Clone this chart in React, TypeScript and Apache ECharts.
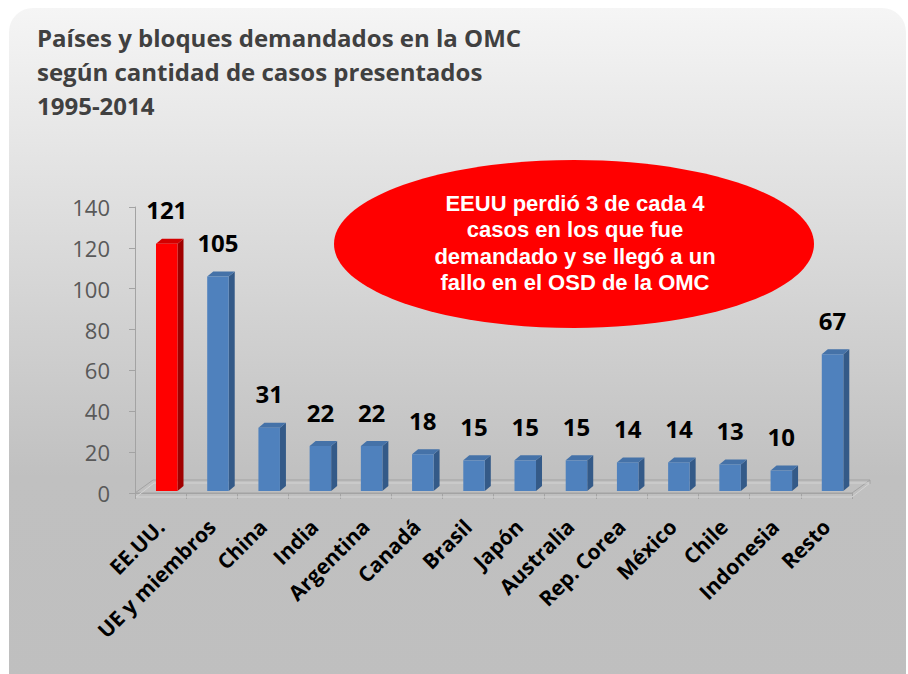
import React, { useEffect, useRef } from 'react';
import * as echarts from 'echarts';

const categories = ['EE.UU.', 'UE y miembros', 'China', 'India', 'Argentina', 'Canadá', 'Brasil', 'Japón', 'Australia', 'Rep. Corea', 'México', 'Chile', 'Indonesia', 'Resto'];
const casos = [121, 105, 31, 22, 22, 18, 15, 15, 15, 14, 14, 13, 10, 67];
const highlighted = ['EE.UU.'];
const yMin = 0;
const yMax = 140;
const yStep = 20;
const titleLines = ['Países y bloques demandados en la OMC', 'según cantidad de casos presentados', '1995-2014'];
const calloutLines = ['EEUU perdió 3 de cada 4', 'casos en los que fue', 'demandado y se llegó a un', 'fallo en el OSD de la OMC'];

const FONT = '"Open Sans", "Noto Sans", sans-serif';
const CALLOUT_FONT = '"Liberation Sans", Arial, sans-serif';

export default function App() {
  const ref = useRef<HTMLDivElement>(null);
  useEffect(() => {
    if (!ref.current) return;
    const chart = echarts.init(ref.current, undefined, { renderer: 'svg' });
    const lineColor = '#a3a3a3';
    const calloutCx = 575;
    const calloutFirst = 203;
    const calloutGap = 26.6;
    chart.setOption({
      animation: false,
      backgroundColor: '#ffffff',
      title: {
        text: titleLines.join('\n'),
        left: 32,
        top: 15,
        textStyle: { fontFamily: FONT, fontWeight: 'bold', fontSize: 24, lineHeight: 34, color: '#404040' },
      },
      graphic: [
        {
          type: 'rect',
          z: -10,
          silent: true,
          shape: { x: 9, y: 8, width: 897, height: 690, r: 24 },
          style: {
            fill: new echarts.graphic.LinearGradient(0, 0, 0, 1, [
              { offset: 0, color: '#f5f5f5' },
              { offset: 0.68, color: '#c0c0c0' },
              { offset: 1, color: '#bfbfbf' },
            ]),
          },
        },
        {
          type: 'ellipse',
          z: 50,
          shape: { cx: 574, cy: 244, rx: 240, ry: 84 },
          style: { fill: '#ff0000' },
        },
        ...calloutLines.map((line, i) => ({
          type: 'text',
          z: 51,
          x: calloutCx,
          y: calloutFirst + i * calloutGap,
          style: {
            text: line,
            align: 'center',
            verticalAlign: 'middle',
            font: `bold 22px ${CALLOUT_FONT}`,
            fill: '#ffffff',
          },
        })),
      ],
      grid: { left: 135, right: 56, top: 207, bottom: 181, containLabel: false },
      xAxis: {
        type: 'category',
        data: categories,
        offset: 4,
        axisLine: { show: true, lineStyle: { color: lineColor, width: 1 } },
        axisTick: { show: true, length: 6, lineStyle: { color: lineColor } },
        axisLabel: {
          interval: 0,
          rotate: 45,
          margin: 26,
          fontFamily: FONT,
          fontWeight: 'bold',
          fontSize: 21,
          color: '#000000',
        },
      },
      yAxis: {
        type: 'value',
        min: yMin,
        max: yMax,
        interval: yStep,
        axisLine: { show: true, lineStyle: { color: lineColor, width: 1 } },
        axisTick: { show: true, length: 6, lineStyle: { color: lineColor } },
        splitLine: { show: false },
        axisLabel: { margin: 25, fontFamily: FONT, fontSize: 22, color: '#595959' },
      },
      series: [
        {
          type: 'custom',
          z: 1,
          silent: true,
          data: [[0]],
          renderItem: (params: any) => {
            const cs = params.coordSys;
            const x0 = cs.x, x1 = cs.x + cs.width, yf = cs.y + cs.height;
            const dx = 18, dy = 13, th = 4;
            return {
              type: 'group',
              children: [
                { type: 'polygon', shape: { points: [[x0, yf], [x0 + dx, yf - dy], [x1 + dx, yf - dy], [x1, yf]] }, style: { fill: 'none', stroke: lineColor, lineWidth: 1 } },
                { type: 'polygon', shape: { points: [[x0 + 1, yf + th], [x0 + dx + 1, yf - dy + th - 1], [x1 + dx, yf - dy + th - 1], [x1, yf + th]] }, style: { fill: 'none', stroke: '#d4d4d4', lineWidth: 1 } },
                { type: 'line', shape: { x1: x1 + dx, y1: yf - dy, x2: x1 + dx, y2: yf - dy + th }, style: { stroke: lineColor, lineWidth: 1 } },
              ],
            };
          },
        },
        {
          type: 'custom',
          z: 5,
          data: casos.map((v, i) => [i, v]),
          encode: { x: 0, y: 1 },
          renderItem: (params: any, api: any) => {
            const idx = api.value(0);
            const v = api.value(1);
            const base = api.coord([idx, 0]);
            const top = api.coord([idx, v]);
            const bw = api.size([1, 0])[0];
            const fw = bw * 0.42;
            const fx = base[0] - bw * 0.09;
            const lift = 2, dx = 6, dy = 5;
            const yb = base[1] - lift;
            const yt = top[1] - lift;
            const red = highlighted.includes(categories[idx]);
            const front = red ? '#ff0000' : '#4f81bd';
            const side = red ? '#a00000' : '#345a88';
            const topC = red ? '#d40000' : '#4572a8';
            return {
              type: 'group',
              children: [
                { type: 'polygon', shape: { points: [[fx + fw, yt], [fx + fw + dx, yt - dy], [fx + fw + dx, yb - dy], [fx + fw, yb]] }, style: { fill: side } },
                { type: 'polygon', shape: { points: [[fx, yt], [fx + dx, yt - dy], [fx + fw + dx, yt - dy], [fx + fw, yt]] }, style: { fill: topC } },
                { type: 'rect', shape: { x: fx, y: yt, width: fw, height: yb - yt }, style: { fill: front } },
                {
                  type: 'text',
                  style: {
                    text: String(v),
                    x: fx + fw / 2,
                    y: yt - 34,
                    align: 'center',
                    verticalAlign: 'middle',
                    font: `bold 24px ${FONT}`,
                    fill: '#000000',
                  },
                },
              ],
            };
          },
        },
      ],
    });
    return () => chart.dispose();
  }, []);
  return <div ref={ref} style={{ position: 'fixed', left: 0, top: 0, width: 908, height: 674 }} />;
}
